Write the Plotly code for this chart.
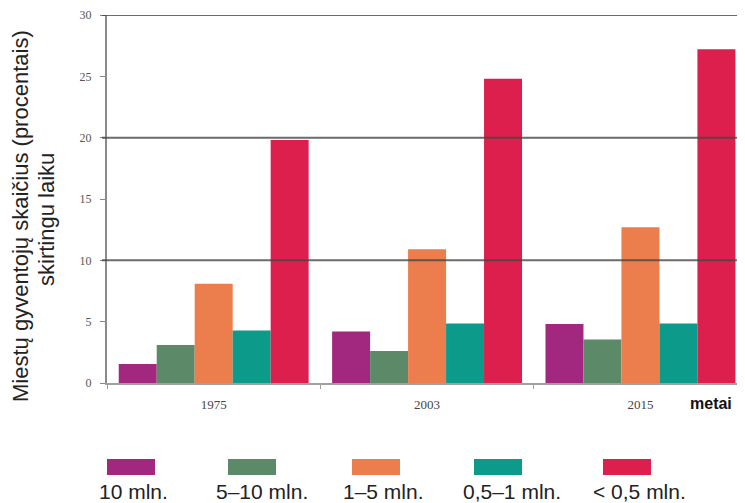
import plotly.graph_objects as go

years = ["1975", "2003", "2015"]
series_names = ["10 mln.", "5–10 mln.", "1–5 mln.", "0,5–1 mln.", "< 0,5 mln."]
v_10 = [1.55, 4.2, 4.8]
v_5_10 = [3.1, 2.6, 3.55]
v_1_5 = [8.1, 10.9, 12.7]
v_05_1 = [4.27, 4.85, 4.85]
v_lt05 = [19.8, 24.8, 27.2]
series_values = [v_10, v_5_10, v_1_5, v_05_1, v_lt05]
colors = ["#a2287f", "#5c8a69", "#ec7d4d", "#0c9a8a", "#dc1f4c"]
grid_values = [10, 20, 30]
y_ticks = [0, 5, 10, 15, 20, 25, 30]
y_title_lines = ["Miestų gyventojų skaičius (procentais)", "skirtingu laiku"]

# the page body has an 8px margin, so the figure is drawn 8px in from the window corner
OFF = 8
W, H = 745 - OFF, 503 - OFF
L, R, T, B = 107 - OFF, 0, 15 - OFF, 503 - 383
PW, PH = W - L - R, H - T - B


def px_x(x):
    return (x - OFF - L) / PW


def px_y(y):
    return (H - B - (y - OFF)) / PH


fig = go.Figure()
for name, vals, col in zip(series_names, series_values, colors):
    fig.add_trace(go.Bar(x=years, y=vals, name=name, marker=dict(color=col, line=dict(width=0)),
                         showlegend=False))

fig.update_layout(
    width=W, height=H,
    margin=dict(l=L, r=R, t=T, b=B),
    paper_bgcolor="white", plot_bgcolor="white",
    barmode="group", bargap=0.11, bargroupgap=0,
    font=dict(family="Liberation Sans, Arial", color="#222"),
    xaxis=dict(
        type="category", range=[-0.5, 2.49], automargin=False,
        showline=True, linecolor="#a0a0a0", linewidth=2,
        ticks="outside", tickson="boundaries", ticklen=4, tickcolor="#a0a0a0",
        tickfont=dict(family="Liberation Serif, serif", size=13, color="#444"),
        ticklabelstandoff=8,
        showgrid=False,
    ),
    yaxis=dict(
        range=[0, 30], tickvals=y_ticks, ticks="outside", ticklen=5, tickcolor="#888",
        showline=True, linecolor="#8a8a8a", linewidth=2, automargin=False,
        tickfont=dict(family="Liberation Serif, serif", size=12, color="#555"),
        ticklabelstandoff=6,
        showgrid=False, zeroline=False,
    ),
)

for g in grid_values:
    fig.add_shape(type="line", xref="paper", yref="y", x0=px_x(102), x1=1, y0=g, y1=g,
                  line=dict(color="rgba(70,70,70,0.8)", width=2), layer="above")

# y-axis title (two lines)
for line, xp, yp in zip(y_title_lines, [20, 46], [216, 220]):
    fig.add_annotation(text=line, xref="paper", yref="paper", x=px_x(xp), y=px_y(yp),
                       xanchor="center", yanchor="middle", showarrow=False, textangle=-90,
                       font=dict(family="Liberation Sans, Arial", size=22, color="#222"))

fig.add_annotation(text="<b>metai</b>", xref="paper", yref="paper", x=px_x(711), y=px_y(403),
                   xanchor="center", yanchor="middle", showarrow=False,
                   font=dict(family="Liberation Sans, Arial", size=16, color="#111"))

# custom legend: swatch above label
leg_centers = [131, 252, 376, 498, 627]
label_centers = [133, 262, 383, 512, 639]
for name, col, cx, lx in zip(series_names, colors, leg_centers, label_centers):
    fig.add_shape(type="rect", xref="paper", yref="paper",
                  x0=px_x(cx - 24), x1=px_x(cx + 24),
                  y0=px_y(475), y1=px_y(459),
                  fillcolor=col, line=dict(width=0))
    fig.add_annotation(text=name, xref="paper", yref="paper",
                       x=px_x(lx), y=px_y(491),
                       xanchor="center", yanchor="middle", showarrow=False,
                       font=dict(family="Liberation Sans, Arial", size=21, color="#222"))

fig.write_html("out.html")
